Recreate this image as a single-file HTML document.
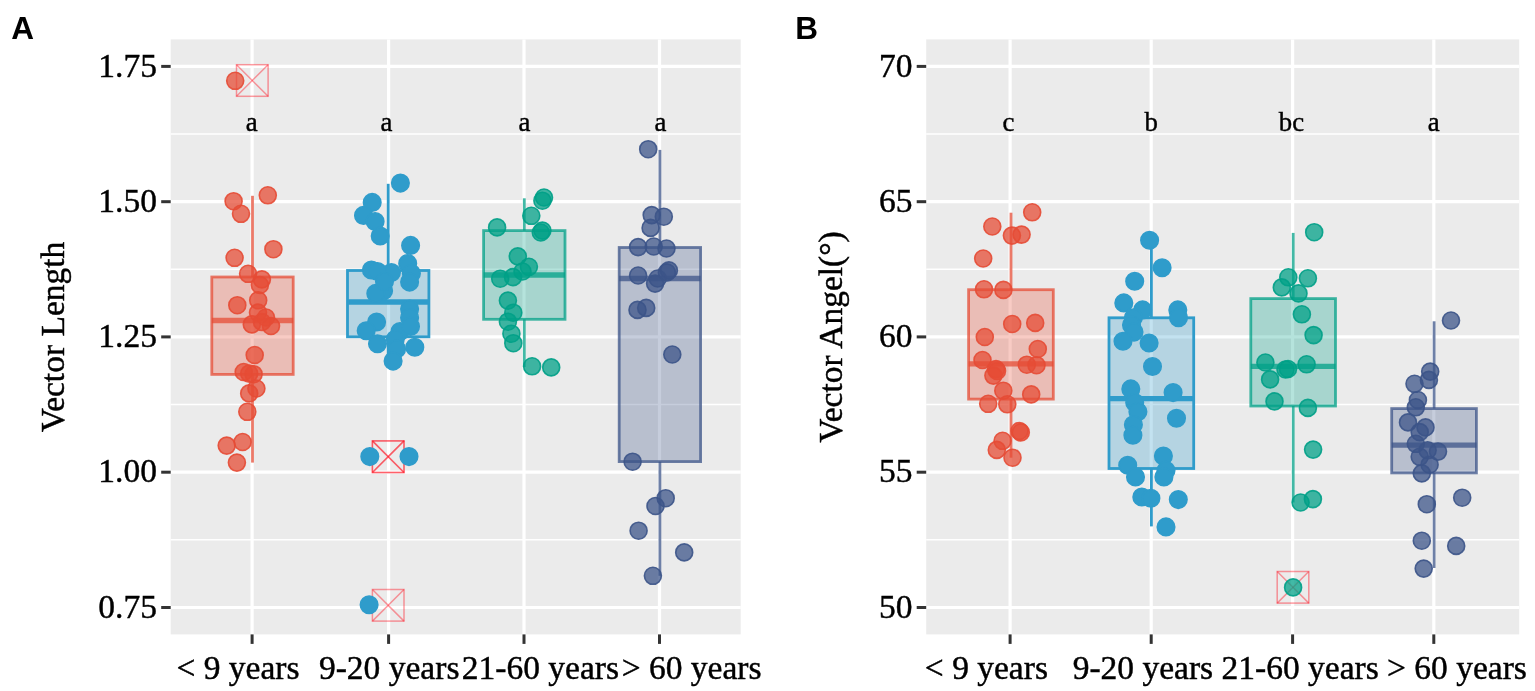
<!DOCTYPE html>
<html lang="en"><head><meta charset="utf-8"><title>Vector Length and Vector Angle by age group</title>
<style>
html,body{margin:0;padding:0;background:#fff;}
body{width:1535px;height:691px;overflow:hidden;}
svg{display:block;}
.ax{font-family:"Liberation Serif","DejaVu Serif",serif;font-size:33.5px;fill:#000;stroke:#000;stroke-width:0.45px;}
.sig{font-family:"Liberation Serif","DejaVu Serif",serif;font-size:26.8px;fill:#000;stroke:#000;stroke-width:0.4px;}
.ltr{font-family:"Liberation Sans","DejaVu Sans",sans-serif;font-weight:bold;font-size:31.5px;fill:#000;}
</style></head><body>
<svg width="1535" height="691" viewBox="0 0 1535 691">
<rect x="0" y="0" width="1535" height="691" fill="#fff"/>
<g>
<text class="ltr" x="11.3" y="39">A</text>
<rect x="170.7" y="39.4" width="570.0" height="595.0" fill="#EBEBEB"/>
<line x1="170.7" x2="740.7" y1="134.0" y2="134.0" stroke="#fff" stroke-width="1.5"/>
<line x1="170.7" x2="740.7" y1="269.3" y2="269.3" stroke="#fff" stroke-width="1.5"/>
<line x1="170.7" x2="740.7" y1="404.6" y2="404.6" stroke="#fff" stroke-width="1.5"/>
<line x1="170.7" x2="740.7" y1="539.8" y2="539.8" stroke="#fff" stroke-width="1.5"/>
<line x1="170.7" x2="740.7" y1="66.4" y2="66.4" stroke="#fff" stroke-width="3.2"/>
<line x1="170.7" x2="740.7" y1="201.7" y2="201.7" stroke="#fff" stroke-width="3.2"/>
<line x1="170.7" x2="740.7" y1="336.9" y2="336.9" stroke="#fff" stroke-width="3.2"/>
<line x1="170.7" x2="740.7" y1="472.2" y2="472.2" stroke="#fff" stroke-width="3.2"/>
<line x1="170.7" x2="740.7" y1="607.5" y2="607.5" stroke="#fff" stroke-width="3.2"/>
<line x1="252.1" x2="252.1" y1="39.4" y2="634.4" stroke="#fff" stroke-width="3.2"/>
<line x1="388.6" x2="388.6" y1="39.4" y2="634.4" stroke="#fff" stroke-width="3.2"/>
<line x1="524.0" x2="524.0" y1="39.4" y2="634.4" stroke="#fff" stroke-width="3.2"/>
<line x1="659.5" x2="659.5" y1="39.4" y2="634.4" stroke="#fff" stroke-width="3.2"/>
<line x1="161.2" x2="170.7" y1="66.4" y2="66.4" stroke="#333" stroke-width="3"/>
<line x1="161.2" x2="170.7" y1="201.7" y2="201.7" stroke="#333" stroke-width="3"/>
<line x1="161.2" x2="170.7" y1="336.9" y2="336.9" stroke="#333" stroke-width="3"/>
<line x1="161.2" x2="170.7" y1="472.2" y2="472.2" stroke="#333" stroke-width="3"/>
<line x1="161.2" x2="170.7" y1="607.5" y2="607.5" stroke="#333" stroke-width="3"/>
<line x1="252.1" x2="252.1" y1="634.4" y2="643.9" stroke="#333" stroke-width="3"/>
<line x1="388.6" x2="388.6" y1="634.4" y2="643.9" stroke="#333" stroke-width="3"/>
<line x1="524.0" x2="524.0" y1="634.4" y2="643.9" stroke="#333" stroke-width="3"/>
<line x1="659.5" x2="659.5" y1="634.4" y2="643.9" stroke="#333" stroke-width="3"/>
<text class="ax" text-anchor="end" x="156.9" y="76.5">1.75</text>
<text class="ax" text-anchor="end" x="156.9" y="211.8">1.50</text>
<text class="ax" text-anchor="end" x="156.9" y="347.0">1.25</text>
<text class="ax" text-anchor="end" x="156.9" y="482.3">1.00</text>
<text class="ax" text-anchor="end" x="156.9" y="617.6">0.75</text>
<text class="ax" text-anchor="middle" x="238.0" y="679.3">&lt; 9 years</text>
<text class="ax" text-anchor="middle" x="389.2" y="679.3">9-20 years</text>
<text class="ax" text-anchor="middle" x="540.4" y="679.3">21-60 years</text>
<text class="ax" text-anchor="middle" x="691.6" y="679.3">&gt; 60 years</text>
<text class="ax" text-anchor="middle" transform="translate(63.9,337) rotate(-90)">Vector Length</text>
<g fill="none" stroke="#FF1020" stroke-opacity="0.42" stroke-width="1.5">
<rect x="236.5" y="64.7" width="31.6" height="31.6"/>
<line x1="236.5" y1="64.7" x2="268.1" y2="96.3"/>
<line x1="236.5" y1="96.3" x2="268.1" y2="64.7"/>
</g>
<g fill="none" stroke="#FF1020" stroke-opacity="0.42" stroke-width="1.5">
<rect x="372.4" y="440.9" width="31.6" height="31.6"/>
<line x1="372.4" y1="440.9" x2="404.0" y2="472.5"/>
<line x1="372.4" y1="472.5" x2="404.0" y2="440.9"/>
</g>
<g fill="none" stroke="#FF1020" stroke-opacity="0.42" stroke-width="1.5">
<rect x="372.4" y="440.9" width="31.6" height="31.6"/>
<line x1="372.4" y1="440.9" x2="404.0" y2="472.5"/>
<line x1="372.4" y1="472.5" x2="404.0" y2="440.9"/>
</g>
<g fill="none" stroke="#FF1020" stroke-opacity="0.42" stroke-width="1.5">
<rect x="372.4" y="589.5" width="31.6" height="31.6"/>
<line x1="372.4" y1="589.5" x2="404.0" y2="621.1"/>
<line x1="372.4" y1="621.1" x2="404.0" y2="589.5"/>
</g>
<line x1="252.5" x2="252.5" y1="195.8" y2="277.0" stroke="#E64B35" stroke-opacity="0.74" stroke-width="2.8"/>
<line x1="252.5" x2="252.5" y1="374.4" y2="462.6" stroke="#E64B35" stroke-opacity="0.74" stroke-width="2.8"/>
<rect x="211.8" y="277.0" width="81.4" height="97.4" fill="#E64B35" fill-opacity="0.29" stroke="#E64B35" stroke-opacity="0.74" stroke-width="2.8"/>
<line x1="211.8" x2="293.2" y1="320.5" y2="320.5" stroke="#E64B35" stroke-opacity="0.74" stroke-width="5.3"/>
<line x1="388.2" x2="388.2" y1="183.8" y2="270.5" stroke="#2F9CCB" stroke-opacity="1.00" stroke-width="2.8"/>
<line x1="388.2" x2="388.2" y1="336.8" y2="361.0" stroke="#2F9CCB" stroke-opacity="1.00" stroke-width="2.8"/>
<rect x="347.5" y="270.5" width="81.4" height="66.3" fill="#2F9CCB" fill-opacity="0.29" stroke="#2F9CCB" stroke-opacity="1.00" stroke-width="2.8"/>
<line x1="347.5" x2="428.9" y1="302.0" y2="302.0" stroke="#2F9CCB" stroke-opacity="1.00" stroke-width="5.3"/>
<line x1="524.3" x2="524.3" y1="198.3" y2="230.6" stroke="#00A087" stroke-opacity="0.74" stroke-width="2.8"/>
<line x1="524.3" x2="524.3" y1="319.3" y2="367.0" stroke="#00A087" stroke-opacity="0.74" stroke-width="2.8"/>
<rect x="483.6" y="230.6" width="81.4" height="88.7" fill="#00A087" fill-opacity="0.29" stroke="#00A087" stroke-opacity="0.74" stroke-width="2.8"/>
<line x1="483.6" x2="565.0" y1="275.0" y2="275.0" stroke="#00A087" stroke-opacity="0.74" stroke-width="5.3"/>
<line x1="659.9" x2="659.9" y1="149.9" y2="247.5" stroke="#3C5488" stroke-opacity="0.74" stroke-width="2.8"/>
<line x1="659.9" x2="659.9" y1="461.6" y2="575.8" stroke="#3C5488" stroke-opacity="0.74" stroke-width="2.8"/>
<rect x="619.2" y="247.5" width="81.4" height="214.1" fill="#3C5488" fill-opacity="0.29" stroke="#3C5488" stroke-opacity="0.74" stroke-width="2.8"/>
<line x1="619.2" x2="700.6" y1="278.5" y2="278.5" stroke="#3C5488" stroke-opacity="0.74" stroke-width="5.3"/>
<g fill="#E64B35" fill-opacity="0.74" stroke="#E64B35" stroke-opacity="0.90" stroke-width="1.6">
<circle cx="235.2" cy="80.8" r="8.50"/>
<circle cx="233.6" cy="201.2" r="8.50"/>
<circle cx="267.8" cy="195.3" r="8.50"/>
<circle cx="241.0" cy="213.8" r="8.50"/>
<circle cx="273.4" cy="249.2" r="8.50"/>
<circle cx="234.6" cy="257.8" r="8.50"/>
<circle cx="248.1" cy="273.8" r="8.50"/>
<circle cx="261.9" cy="279.4" r="8.50"/>
<circle cx="259.9" cy="285.0" r="8.50"/>
<circle cx="258.2" cy="300.3" r="8.50"/>
<circle cx="237.3" cy="305.2" r="8.50"/>
<circle cx="258.0" cy="312.6" r="8.50"/>
<circle cx="266.0" cy="317.5" r="8.50"/>
<circle cx="251.8" cy="324.4" r="8.50"/>
<circle cx="271.0" cy="326.0" r="8.50"/>
<circle cx="262.0" cy="322.0" r="8.50"/>
<circle cx="254.7" cy="355.0" r="8.50"/>
<circle cx="243.7" cy="372.0" r="8.50"/>
<circle cx="253.6" cy="374.2" r="8.50"/>
<circle cx="249.2" cy="373.6" r="8.50"/>
<circle cx="256.4" cy="388.5" r="8.50"/>
<circle cx="249.2" cy="393.4" r="8.50"/>
<circle cx="247.3" cy="411.8" r="8.50"/>
<circle cx="226.7" cy="445.6" r="8.50"/>
<circle cx="242.6" cy="442.0" r="8.50"/>
<circle cx="236.9" cy="462.6" r="8.50"/>
</g>
<g fill="#2F9CCB" fill-opacity="1.00" stroke="#2F9CCB" stroke-opacity="1.00" stroke-width="1.6">
<circle cx="400.4" cy="183.1" r="8.75"/>
<circle cx="372.2" cy="202.4" r="8.75"/>
<circle cx="363.5" cy="215.4" r="8.75"/>
<circle cx="375.1" cy="221.5" r="8.75"/>
<circle cx="380.2" cy="236.0" r="8.75"/>
<circle cx="410.6" cy="245.4" r="8.75"/>
<circle cx="407.7" cy="263.5" r="8.75"/>
<circle cx="371.4" cy="270.0" r="8.75"/>
<circle cx="391.4" cy="272.6" r="8.75"/>
<circle cx="411.4" cy="273.4" r="8.75"/>
<circle cx="409.6" cy="282.1" r="8.75"/>
<circle cx="383.6" cy="290.8" r="8.75"/>
<circle cx="375.8" cy="293.4" r="8.75"/>
<circle cx="377.5" cy="271.5" r="8.75"/>
<circle cx="384.5" cy="281.5" r="8.75"/>
<circle cx="400.0" cy="331.5" r="8.75"/>
<circle cx="409.6" cy="309.0" r="8.75"/>
<circle cx="409.6" cy="317.7" r="8.75"/>
<circle cx="410.5" cy="326.4" r="8.75"/>
<circle cx="376.6" cy="322.0" r="8.75"/>
<circle cx="366.2" cy="330.7" r="8.75"/>
<circle cx="377.5" cy="343.8" r="8.75"/>
<circle cx="395.3" cy="339.2" r="8.75"/>
<circle cx="396.6" cy="349.0" r="8.75"/>
<circle cx="414.8" cy="347.2" r="8.75"/>
<circle cx="393.1" cy="361.1" r="8.75"/>
<circle cx="369.8" cy="456.6" r="8.75"/>
<circle cx="409.0" cy="456.6" r="8.75"/>
<circle cx="369.1" cy="604.7" r="8.75"/>
</g>
<g fill="#00A087" fill-opacity="0.74" stroke="#00A087" stroke-opacity="0.90" stroke-width="1.6">
<circle cx="544.0" cy="197.5" r="8.50"/>
<circle cx="542.4" cy="200.7" r="8.50"/>
<circle cx="531.3" cy="215.8" r="8.50"/>
<circle cx="497.1" cy="227.4" r="8.50"/>
<circle cx="542.4" cy="230.6" r="8.50"/>
<circle cx="540.8" cy="232.5" r="8.50"/>
<circle cx="517.8" cy="256.4" r="8.50"/>
<circle cx="528.9" cy="266.8" r="8.50"/>
<circle cx="522.5" cy="271.5" r="8.50"/>
<circle cx="513.0" cy="277.1" r="8.50"/>
<circle cx="500.2" cy="278.7" r="8.50"/>
<circle cx="507.9" cy="300.6" r="8.50"/>
<circle cx="513.3" cy="312.7" r="8.50"/>
<circle cx="507.9" cy="321.7" r="8.50"/>
<circle cx="511.4" cy="333.7" r="8.50"/>
<circle cx="513.3" cy="343.2" r="8.50"/>
<circle cx="532.1" cy="366.3" r="8.50"/>
<circle cx="551.2" cy="367.4" r="8.50"/>
</g>
<g fill="#3C5488" fill-opacity="0.74" stroke="#3C5488" stroke-opacity="0.90" stroke-width="1.6">
<circle cx="648.2" cy="149.2" r="8.50"/>
<circle cx="651.7" cy="215.1" r="8.50"/>
<circle cx="663.8" cy="216.7" r="8.50"/>
<circle cx="650.6" cy="227.9" r="8.50"/>
<circle cx="638.1" cy="247.1" r="8.50"/>
<circle cx="653.7" cy="246.5" r="8.50"/>
<circle cx="666.5" cy="248.5" r="8.50"/>
<circle cx="638.1" cy="275.5" r="8.50"/>
<circle cx="668.9" cy="270.4" r="8.50"/>
<circle cx="666.9" cy="272.4" r="8.50"/>
<circle cx="657.7" cy="278.5" r="8.50"/>
<circle cx="655.1" cy="283.6" r="8.50"/>
<circle cx="637.5" cy="309.9" r="8.50"/>
<circle cx="646.2" cy="307.9" r="8.50"/>
<circle cx="672.3" cy="354.5" r="8.50"/>
<circle cx="632.6" cy="461.7" r="8.50"/>
<circle cx="665.7" cy="498.2" r="8.50"/>
<circle cx="655.5" cy="506.0" r="8.50"/>
<circle cx="638.6" cy="530.7" r="8.50"/>
<circle cx="684.2" cy="552.4" r="8.50"/>
<circle cx="652.9" cy="575.8" r="8.50"/>
</g>
<text class="sig" text-anchor="middle" x="251.8" y="130.9">a</text>
<text class="sig" text-anchor="middle" x="386.4" y="130.9">a</text>
<text class="sig" text-anchor="middle" x="524.4" y="130.9">a</text>
<text class="sig" text-anchor="middle" x="660.5" y="130.9">a</text>
</g>
<g>
<text class="ltr" x="795.2" y="39">B</text>
<rect x="926.2" y="39.4" width="593.0" height="595.0" fill="#EBEBEB"/>
<line x1="926.2" x2="1519.2" y1="134.0" y2="134.0" stroke="#fff" stroke-width="1.5"/>
<line x1="926.2" x2="1519.2" y1="269.3" y2="269.3" stroke="#fff" stroke-width="1.5"/>
<line x1="926.2" x2="1519.2" y1="404.6" y2="404.6" stroke="#fff" stroke-width="1.5"/>
<line x1="926.2" x2="1519.2" y1="539.8" y2="539.8" stroke="#fff" stroke-width="1.5"/>
<line x1="926.2" x2="1519.2" y1="66.4" y2="66.4" stroke="#fff" stroke-width="3.2"/>
<line x1="926.2" x2="1519.2" y1="201.7" y2="201.7" stroke="#fff" stroke-width="3.2"/>
<line x1="926.2" x2="1519.2" y1="336.9" y2="336.9" stroke="#fff" stroke-width="3.2"/>
<line x1="926.2" x2="1519.2" y1="472.2" y2="472.2" stroke="#fff" stroke-width="3.2"/>
<line x1="926.2" x2="1519.2" y1="607.5" y2="607.5" stroke="#fff" stroke-width="3.2"/>
<line x1="1010.1" x2="1010.1" y1="39.4" y2="634.4" stroke="#fff" stroke-width="3.2"/>
<line x1="1151.2" x2="1151.2" y1="39.4" y2="634.4" stroke="#fff" stroke-width="3.2"/>
<line x1="1292.6" x2="1292.6" y1="39.4" y2="634.4" stroke="#fff" stroke-width="3.2"/>
<line x1="1433.8" x2="1433.8" y1="39.4" y2="634.4" stroke="#fff" stroke-width="3.2"/>
<line x1="916.7" x2="926.2" y1="66.4" y2="66.4" stroke="#333" stroke-width="3"/>
<line x1="916.7" x2="926.2" y1="201.7" y2="201.7" stroke="#333" stroke-width="3"/>
<line x1="916.7" x2="926.2" y1="336.9" y2="336.9" stroke="#333" stroke-width="3"/>
<line x1="916.7" x2="926.2" y1="472.2" y2="472.2" stroke="#333" stroke-width="3"/>
<line x1="916.7" x2="926.2" y1="607.5" y2="607.5" stroke="#333" stroke-width="3"/>
<line x1="1010.1" x2="1010.1" y1="634.4" y2="643.9" stroke="#333" stroke-width="3"/>
<line x1="1151.2" x2="1151.2" y1="634.4" y2="643.9" stroke="#333" stroke-width="3"/>
<line x1="1292.6" x2="1292.6" y1="634.4" y2="643.9" stroke="#333" stroke-width="3"/>
<line x1="1433.8" x2="1433.8" y1="634.4" y2="643.9" stroke="#333" stroke-width="3"/>
<text class="ax" text-anchor="end" x="912.4" y="76.5">70</text>
<text class="ax" text-anchor="end" x="912.4" y="211.8">65</text>
<text class="ax" text-anchor="end" x="912.4" y="347.0">60</text>
<text class="ax" text-anchor="end" x="912.4" y="482.3">55</text>
<text class="ax" text-anchor="end" x="912.4" y="617.6">50</text>
<text class="ax" text-anchor="middle" x="986.4" y="679.3">&lt; 9 years</text>
<text class="ax" text-anchor="middle" x="1142.9" y="679.3">9-20 years</text>
<text class="ax" text-anchor="middle" x="1300.2" y="679.3">21-60 years</text>
<text class="ax" text-anchor="middle" x="1457.0" y="679.3">&gt; 60 years</text>
<text class="ax" text-anchor="middle" transform="translate(841.8,337) rotate(-90)">Vector Angel(°)</text>
<g fill="none" stroke="#FF1020" stroke-opacity="0.42" stroke-width="1.5">
<rect x="1277.2" y="571.5" width="31.6" height="31.6"/>
<line x1="1277.2" y1="571.5" x2="1308.8" y2="603.1"/>
<line x1="1277.2" y1="603.1" x2="1308.8" y2="571.5"/>
</g>
<line x1="1011.0" x2="1011.0" y1="212.7" y2="289.7" stroke="#E64B35" stroke-opacity="0.74" stroke-width="2.8"/>
<line x1="1011.0" x2="1011.0" y1="399.1" y2="457.7" stroke="#E64B35" stroke-opacity="0.74" stroke-width="2.8"/>
<rect x="968.6" y="289.7" width="84.7" height="109.4" fill="#E64B35" fill-opacity="0.29" stroke="#E64B35" stroke-opacity="0.74" stroke-width="2.8"/>
<line x1="968.6" x2="1053.4" y1="363.9" y2="363.9" stroke="#E64B35" stroke-opacity="0.74" stroke-width="5.3"/>
<line x1="1151.4" x2="1151.4" y1="240.3" y2="317.8" stroke="#2F9CCB" stroke-opacity="1.00" stroke-width="2.8"/>
<line x1="1151.4" x2="1151.4" y1="468.5" y2="526.4" stroke="#2F9CCB" stroke-opacity="1.00" stroke-width="2.8"/>
<rect x="1109.0" y="317.8" width="84.7" height="150.7" fill="#2F9CCB" fill-opacity="0.29" stroke="#2F9CCB" stroke-opacity="1.00" stroke-width="2.8"/>
<line x1="1109.0" x2="1193.8" y1="398.7" y2="398.7" stroke="#2F9CCB" stroke-opacity="1.00" stroke-width="5.3"/>
<line x1="1293.2" x2="1293.2" y1="232.9" y2="298.6" stroke="#00A087" stroke-opacity="0.74" stroke-width="2.8"/>
<line x1="1293.2" x2="1293.2" y1="406.0" y2="502.5" stroke="#00A087" stroke-opacity="0.74" stroke-width="2.8"/>
<rect x="1250.8" y="298.6" width="84.7" height="107.4" fill="#00A087" fill-opacity="0.29" stroke="#00A087" stroke-opacity="0.74" stroke-width="2.8"/>
<line x1="1250.8" x2="1335.6" y1="366.4" y2="366.4" stroke="#00A087" stroke-opacity="0.74" stroke-width="5.3"/>
<line x1="1434.1" x2="1434.1" y1="321.3" y2="408.6" stroke="#3C5488" stroke-opacity="0.74" stroke-width="2.8"/>
<line x1="1434.1" x2="1434.1" y1="472.9" y2="568.0" stroke="#3C5488" stroke-opacity="0.74" stroke-width="2.8"/>
<rect x="1391.7" y="408.6" width="84.7" height="64.3" fill="#3C5488" fill-opacity="0.29" stroke="#3C5488" stroke-opacity="0.74" stroke-width="2.8"/>
<line x1="1391.7" x2="1476.5" y1="445.1" y2="445.1" stroke="#3C5488" stroke-opacity="0.74" stroke-width="5.3"/>
<g fill="#E64B35" fill-opacity="0.74" stroke="#E64B35" stroke-opacity="0.90" stroke-width="1.6">
<circle cx="1032.2" cy="212.3" r="8.50"/>
<circle cx="992.3" cy="226.5" r="8.50"/>
<circle cx="1011.9" cy="235.6" r="8.50"/>
<circle cx="1021.6" cy="234.6" r="8.50"/>
<circle cx="983.2" cy="258.5" r="8.50"/>
<circle cx="984.0" cy="289.3" r="8.50"/>
<circle cx="1003.4" cy="289.9" r="8.50"/>
<circle cx="1012.2" cy="324.0" r="8.50"/>
<circle cx="1035.2" cy="322.9" r="8.50"/>
<circle cx="984.8" cy="337.0" r="8.50"/>
<circle cx="1037.8" cy="349.0" r="8.50"/>
<circle cx="982.5" cy="360.0" r="8.50"/>
<circle cx="1026.8" cy="364.7" r="8.50"/>
<circle cx="1036.5" cy="365.2" r="8.50"/>
<circle cx="996.0" cy="369.1" r="8.50"/>
<circle cx="997.0" cy="371.0" r="8.50"/>
<circle cx="993.4" cy="375.6" r="8.50"/>
<circle cx="1003.3" cy="390.7" r="8.50"/>
<circle cx="1031.2" cy="394.4" r="8.50"/>
<circle cx="988.2" cy="403.8" r="8.50"/>
<circle cx="1007.3" cy="404.3" r="8.50"/>
<circle cx="1020.8" cy="432.4" r="8.50"/>
<circle cx="1019.5" cy="431.0" r="8.50"/>
<circle cx="1002.6" cy="440.8" r="8.50"/>
<circle cx="996.8" cy="449.9" r="8.50"/>
<circle cx="1012.5" cy="457.7" r="8.50"/>
</g>
<g fill="#2F9CCB" fill-opacity="1.00" stroke="#2F9CCB" stroke-opacity="1.00" stroke-width="1.6">
<circle cx="1149.6" cy="240.3" r="8.75"/>
<circle cx="1162.1" cy="267.7" r="8.75"/>
<circle cx="1134.7" cy="281.3" r="8.75"/>
<circle cx="1123.8" cy="302.9" r="8.75"/>
<circle cx="1142.6" cy="309.9" r="8.75"/>
<circle cx="1177.8" cy="309.9" r="8.75"/>
<circle cx="1178.5" cy="317.8" r="8.75"/>
<circle cx="1133.4" cy="317.8" r="8.75"/>
<circle cx="1131.5" cy="325.0" r="8.75"/>
<circle cx="1134.0" cy="332.1" r="8.75"/>
<circle cx="1123.0" cy="341.2" r="8.75"/>
<circle cx="1149.1" cy="343.0" r="8.75"/>
<circle cx="1152.5" cy="366.5" r="8.75"/>
<circle cx="1130.8" cy="388.9" r="8.75"/>
<circle cx="1173.1" cy="392.6" r="8.75"/>
<circle cx="1134.7" cy="402.6" r="8.75"/>
<circle cx="1137.9" cy="411.7" r="8.75"/>
<circle cx="1176.5" cy="418.2" r="8.75"/>
<circle cx="1133.4" cy="424.7" r="8.75"/>
<circle cx="1132.9" cy="435.2" r="8.75"/>
<circle cx="1163.4" cy="456.0" r="8.75"/>
<circle cx="1127.7" cy="465.2" r="8.75"/>
<circle cx="1166.0" cy="470.4" r="8.75"/>
<circle cx="1163.9" cy="476.9" r="8.75"/>
<circle cx="1135.5" cy="476.9" r="8.75"/>
<circle cx="1141.8" cy="497.0" r="8.75"/>
<circle cx="1150.9" cy="498.3" r="8.75"/>
<circle cx="1178.3" cy="499.6" r="8.75"/>
<circle cx="1166.0" cy="526.9" r="8.75"/>
</g>
<g fill="#00A087" fill-opacity="0.74" stroke="#00A087" stroke-opacity="0.90" stroke-width="1.6">
<circle cx="1314.2" cy="232.2" r="8.50"/>
<circle cx="1288.3" cy="277.3" r="8.50"/>
<circle cx="1307.9" cy="278.3" r="8.50"/>
<circle cx="1281.8" cy="287.4" r="8.50"/>
<circle cx="1298.5" cy="293.4" r="8.50"/>
<circle cx="1301.9" cy="314.3" r="8.50"/>
<circle cx="1313.6" cy="335.1" r="8.50"/>
<circle cx="1265.4" cy="362.5" r="8.50"/>
<circle cx="1306.6" cy="364.3" r="8.50"/>
<circle cx="1285.5" cy="369.5" r="8.50"/>
<circle cx="1288.0" cy="369.0" r="8.50"/>
<circle cx="1270.1" cy="379.4" r="8.50"/>
<circle cx="1274.5" cy="401.4" r="8.50"/>
<circle cx="1307.9" cy="407.9" r="8.50"/>
<circle cx="1313.1" cy="449.6" r="8.50"/>
<circle cx="1300.6" cy="502.5" r="8.50"/>
<circle cx="1312.9" cy="499.1" r="8.50"/>
<circle cx="1293.1" cy="587.4" r="8.50"/>
</g>
<g fill="#3C5488" fill-opacity="0.74" stroke="#3C5488" stroke-opacity="0.90" stroke-width="1.6">
<circle cx="1451.0" cy="320.5" r="8.50"/>
<circle cx="1430.2" cy="371.6" r="8.50"/>
<circle cx="1428.9" cy="379.9" r="8.50"/>
<circle cx="1414.5" cy="383.8" r="8.50"/>
<circle cx="1417.9" cy="400.0" r="8.50"/>
<circle cx="1415.8" cy="407.3" r="8.50"/>
<circle cx="1408.0" cy="422.4" r="8.50"/>
<circle cx="1425.5" cy="427.4" r="8.50"/>
<circle cx="1419.7" cy="432.1" r="8.50"/>
<circle cx="1415.8" cy="443.8" r="8.50"/>
<circle cx="1427.6" cy="450.3" r="8.50"/>
<circle cx="1438.0" cy="451.6" r="8.50"/>
<circle cx="1419.7" cy="456.8" r="8.50"/>
<circle cx="1429.6" cy="464.7" r="8.50"/>
<circle cx="1421.8" cy="473.4" r="8.50"/>
<circle cx="1462.2" cy="497.7" r="8.50"/>
<circle cx="1426.8" cy="504.2" r="8.50"/>
<circle cx="1421.8" cy="540.7" r="8.50"/>
<circle cx="1456.2" cy="545.9" r="8.50"/>
<circle cx="1423.7" cy="568.6" r="8.50"/>
</g>
<text class="sig" text-anchor="middle" x="1008.5" y="130.9">c</text>
<text class="sig" text-anchor="middle" x="1151.2" y="130.9">b</text>
<text class="sig" text-anchor="middle" x="1291.4" y="130.9">bc</text>
<text class="sig" text-anchor="middle" x="1433.6" y="130.9">a</text>
</g>
</svg></body></html>
